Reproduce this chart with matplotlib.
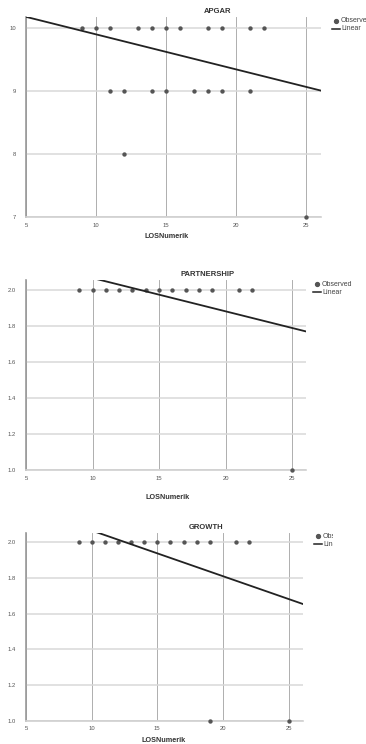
import numpy as np
import matplotlib
matplotlib.use("Agg")
import matplotlib.pyplot as plt
from matplotlib.lines import Line2D
from matplotlib.patches import Rectangle

plt.rcParams['font.family'] = ['Liberation Sans', 'DejaVu Sans']

# ---- data ----
los_label = "LOSNumerik"

apgar_x = [9, 10, 11, 13, 14, 15, 16, 18, 19, 21, 22,
           11, 12, 14, 15, 17, 18, 19, 21,
           12, 25]
apgar_y = [10, 10, 10, 10, 10, 10, 10, 10, 10, 10, 10,
           9, 9, 9, 9, 9, 9, 9, 9,
           8, 7]

partner_x = [9, 10, 11, 12, 13, 14, 15, 16, 17, 18, 19, 21, 22, 25]
partner_y = [2, 2, 2, 2, 2, 2, 2, 2, 2, 2, 2, 2, 2, 1]

growth_x = [9, 10, 11, 12, 13, 14, 15, 16, 17, 18, 19, 21, 22, 19, 25]
growth_y = [2, 2, 2, 2, 2, 2, 2, 2, 2, 2, 2, 2, 2, 1, 1]

# linear fit (intercept, slope)
apgar_fit = (10.45, -0.0555)
partner_fit = (2.252, -0.0185)
growth_fit = (2.322, -0.0256)

x_ticks = [5, 10, 15, 20, 25]
apgar_yticks = [7, 8, 9, 10]
ratio_yticks = [1.0, 1.2, 1.4, 1.6, 1.8, 2.0]
ratio_ylabels = ["1.0", "1.2", "1.4", "1.6", "1.8", "2.0"]

W, H = 366, 744
fig = plt.figure(figsize=(W / 100, H / 100), dpi=100)
fig.patch.set_facecolor('white')

panels = [
    dict(title="APGAR", x=apgar_x, y=apgar_y, fit=apgar_fit,
         box=(26, 321, 17, 217), xlim=(5, 26.07), ylim=(7, 10.17),
         yticks=apgar_yticks, ylabels=[str(v) for v in apgar_yticks],
         xlab_pos=(0.478, -0.10), leg=(332, 21), clip=None),
    dict(title="PARTNERSHIP", x=partner_x, y=partner_y, fit=partner_fit,
         box=(26, 306, 280, 470), xlim=(5, 26.05), ylim=(1.0, 2.056),
         yticks=ratio_yticks, ylabels=ratio_ylabels,
         xlab_pos=(0.507, -0.147), leg=(313, 284), clip=None),
    dict(title="GROWTH", x=growth_x, y=growth_y, fit=growth_fit,
         box=(26, 303, 533, 720.7), xlim=(5, 26.1), ylim=(1.0, 2.052),
         yticks=ratio_yticks, ylabels=ratio_ylabels,
         xlab_pos=(0.498, -0.103), leg=(314, 536), clip=333),
]

for p in panels:
    l, r, t, b = p['box']
    ax = fig.add_axes([l / W, 1 - b / H, (r - l) / W, (b - t) / H])
    ax.set_xlim(*p['xlim'])
    ax.set_ylim(*p['ylim'])
    ax.set_xticks(x_ticks)
    ax.set_yticks(p['yticks'])
    ax.set_yticklabels(p['ylabels'])
    ax.tick_params(length=0, labelsize=4.2, labelcolor='#555555')
    ax.tick_params(axis='y', pad=7)
    ax.tick_params(axis='x', pad=4)
    for s in ['top', 'right']:
        ax.spines[s].set_visible(False)
    ax.spines['left'].set_color('#999999')
    ax.spines['left'].set_linewidth(1.2)
    ax.spines['bottom'].set_color('#d0d0d0')
    ax.spines['bottom'].set_linewidth(1.2)
    ax.xaxis.grid(True, color='#a8a8a8', linewidth=0.65)
    ax.yaxis.grid(True, color='#d8d8d8', linewidth=1.1)
    ax.set_axisbelow(True)

    ax.scatter(p['x'], p['y'], s=10, color='#555555', zorder=3,
               clip_on=False, linewidths=0)
    xs = np.array(p['xlim'])
    b0, b1 = p['fit']
    ax.plot(xs, b0 + b1 * xs, color='#222222', linewidth=1.3, zorder=4)

    ax.text(0.65, 1 + 5.5 / (b - t), p['title'], transform=ax.transAxes,
            ha='center', va='center', fontsize=5.5, fontweight='bold',
            color='#333333')
    ax.text(p['xlab_pos'][0], p['xlab_pos'][1], los_label,
            transform=ax.transAxes, ha='center', va='center',
            fontsize=5.2, fontweight='bold', color='#333333')

    # legend (outside, right)
    lx, ly = p['leg']
    fig.add_artist(Line2D([(lx + 3.5) / W], [1 - ly / H], marker='o',
                          markersize=2.8, color='#555555', linestyle='none',
                          transform=fig.transFigure))
    fig.add_artist(Line2D([lx / W, (lx + 8) / W], [1 - (ly + 8) / H] * 2,
                          color='#222222', linewidth=1.1,
                          transform=fig.transFigure))
    fig.text((lx + 9) / W, 1 - ly / H, "Observed", fontsize=5.0,
             color='#444444', va='center', ha='left')
    fig.text((lx + 9) / W, 1 - (ly + 8) / H, "Linear", fontsize=5.0,
             color='#444444', va='center', ha='left')
    if p['clip'] is not None:
        fig.add_artist(Rectangle((p['clip'] / W, 1 - (ly + 14) / H),
                                 (W - p['clip']) / W, 20 / H,
                                 transform=fig.transFigure, facecolor='white',
                                 edgecolor='none', zorder=10))

fig.savefig("out.png", dpi=100, facecolor='white')
